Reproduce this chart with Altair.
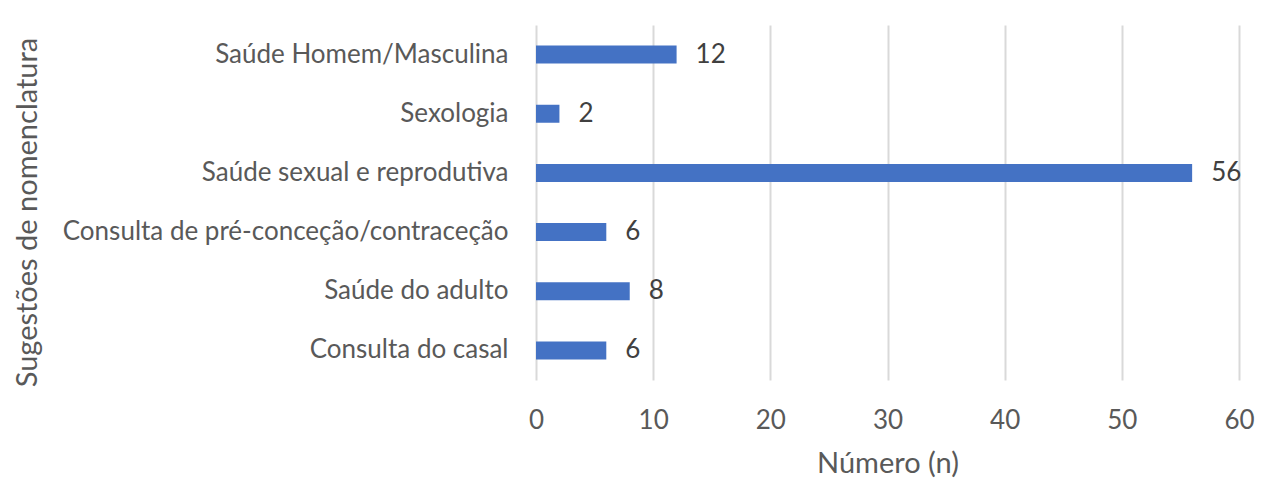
import altair as alt
import pandas as pd

categories = [
    "Saúde Homem/Masculina",
    "Sexologia",
    "Saúde sexual e reprodutiva\u00a0",
    "Consulta de pré-conceção/contraceção\u00a0",
    "Saúde do adulto",
    "Consulta do casal",
]
values = [12, 2, 56, 6, 8, 6]
x_ticks = [0, 10, 20, 30, 40, 50, 60]

df = pd.DataFrame({"cat": categories, "n": values})

FONT = "Lato"

y_enc = alt.Y(
    "cat:N",
    sort=categories,
    scale=alt.Scale(paddingInner=0.0, paddingOuter=0.0),
    axis=alt.Axis(
        title="Sugestões de nomenclatura",
        domain=False,
        ticks=False,
        grid=False,
        labelFont=FONT,
        labelFontSize=26,
        labelColor="#595959",
        labelPadding=28,
        labelLimit=700,
        titleFont=FONT,
        titleFontSize=29,
        titleFontWeight="normal",
        titleColor="#595959",
        titleX=-509,
        titleY=187,
        titleBaseline="middle",
    ),
)

x_enc = alt.X(
    "n:Q",
    scale=alt.Scale(domain=[0, 60], nice=False),
    axis=alt.Axis(
        title="Número (n)",
        values=x_ticks,
        domain=False,
        ticks=False,
        grid=True,
        gridColor="#d9d9d9",
        gridWidth=2,
        labelFlush=False,
        labelFont=FONT,
        labelFontSize=26,
        labelColor="#595959",
        labelPadding=27,
        titleFont=FONT,
        titleFontSize=29,
        titleFontWeight="normal",
        titleColor="#595959",
        titleY=83,
        titleBaseline="middle",
    ),
)

base = alt.Chart(df).encode(y=y_enc, x=x_enc)

bars = base.mark_bar(color="#4472C4", size=18)

labels = base.mark_text(
    align="left", baseline="middle", dx=19, font=FONT, fontSize=26, color="#404040"
).encode(text="n:Q")

chart = (
    alt.layer(bars, labels)
    .properties(
        width=703,
        height=355,
        autosize=alt.AutoSizeParams(type="none"),
        padding={"left": 528, "top": 17, "right": 32, "bottom": 104},
        view=alt.ViewBackground(stroke=None, strokeWidth=0),
    )
    .configure_view(strokeWidth=0)
    .configure(background="white")
)

chart.save("out.html", embed_options={"renderer": "svg", "actions": False})
